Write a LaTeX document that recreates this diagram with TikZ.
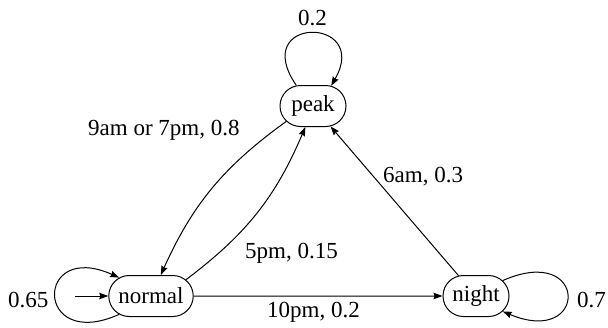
\documentclass[tikz,border=0pt]{standalone}
\usepackage{fontspec}
\setmainfont{Liberation Serif}
\newfontfamily\labelfont{Liberation Serif}
\usetikzlibrary{shapes.misc,arrows.meta}

\begin{document}
\begin{tikzpicture}[x=1pt,y=-1pt,
  state/.style={rounded rectangle, draw, line width=1pt, minimum width=82pt,
    minimum height=41pt, inner xsep=8pt, font=\labelfont\fontsize{23}{27}\selectfont},
  lbl/.style={anchor=base west, inner sep=0pt, font=\labelfont\fontsize{23}{27}\selectfont},
  arr/.style={-{Stealth[length=9pt,width=6.5pt,inset=1pt]}, line width=1pt},
]
\useasboundingbox (0,0) rectangle (608,327);

% states
\node[state] (peak)   at (313,106) {peak};
\node[state] (normal) at (151,296) {normal};
\node[state] (night)  at (476,296) {night};
\coordinate (init) at (75,296);

% transitions
\draw[arr] (init) -- (normal);
\draw[arr] (normal) -- (night);
\draw[arr] (night) -- (peak);
\draw[arr] (peak.210) to[bend right=15] (normal.65);
\draw[arr] (normal.25) to[bend right=15] (peak.250);

% self loops
\draw[arr] (peak.129) .. controls +(-48,-70) and +(40,-70) .. (peak.48);
\draw[arr] (normal.210) .. controls +(-85,38) and +(-85,-38) .. (normal.150);
\draw[arr] (night.30) .. controls +(86,-38) and +(86,36) .. (night.-30);

% transition labels
\node[lbl] (lpp) at (298,25)  {0.2};
\node[lbl] (lpn) at (88,135)  {9am or 7pm, 0.8};
\node[lbl] (lgp) at (383,182) {6am, 0.3};
\node[lbl] (lnp) at (245,258) {5pm, 0.15};
\node[lbl] (lng) at (267,317) {10pm, 0.2};
\node[lbl] (lnn) at (8,307)   {0.65};
\node[lbl] (lgg) at (577,307) {0.7};
\end{tikzpicture}
\end{document}
